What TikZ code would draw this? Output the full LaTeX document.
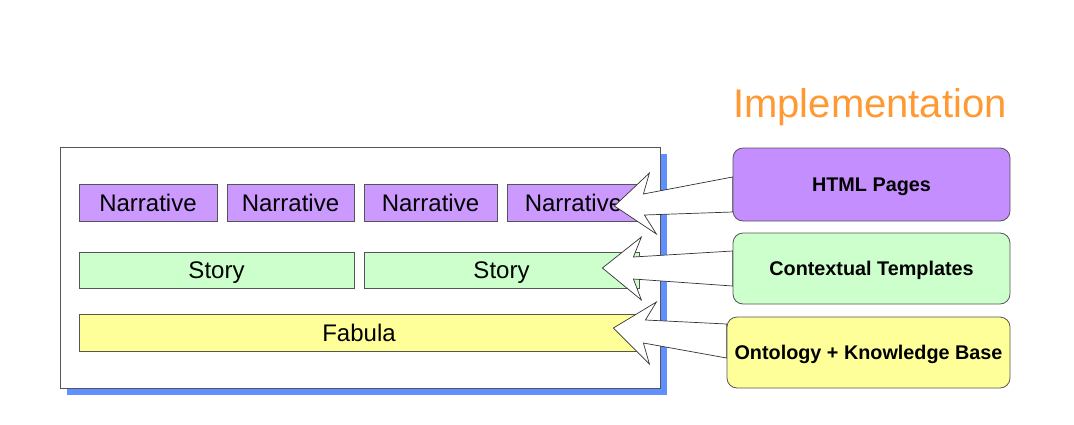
\documentclass[tikz,border=0pt]{standalone}
\usepackage{fontspec}
\setmainfont{Liberation Sans}
\usetikzlibrary{calc,shadows}
\definecolor{narrpurple}{HTML}{CC99FF}
\definecolor{htmlpurple}{HTML}{C58EFF}
\definecolor{storygreen}{HTML}{CCFFCC}
\definecolor{fabyellow}{HTML}{FFFF99}
\definecolor{shadowblue}{HTML}{6090FF}
\definecolor{implorange}{HTML}{FF9933}
\definecolor{edgegrey}{HTML}{555555}
\tikzset{
  layer/.style      = {draw=edgegrey, line width=0.8pt, minimum height=37pt,
                       inner sep=0pt, text height=17.2pt, text depth=0pt,
                       font=\fontsize{24}{28}\selectfont},
  source/.style     = {draw=edgegrey, line width=0.8pt, rounded corners=10pt,
                       inner sep=0pt, text height=14pt, text depth=0pt,
                       font=\fontsize{19.8}{23}\selectfont\bfseries},
  frame/.style      = {draw=edgegrey, line width=0.8pt, fill=white, inner sep=0pt,
                       minimum width=600pt, minimum height=241pt,
                       general shadow={fill=shadowblue, shadow xshift=7pt, shadow yshift=-7pt}},
  bigarrow/.style   = {draw=black!80, line width=0.7pt, fill=white, line join=miter},
}

\begin{document}
\begin{tikzpicture}[x=1pt, y=-1pt]
  \useasboundingbox (0,0) rectangle (1074,424);
  % left part: the layers
  \node[frame] (box) at (360,267.5) {};
  \node[layer, fill=narrpurple, minimum width=138pt] (narr1) at (148,202.5) {Narrative};
  \node[layer, fill=narrpurple, minimum width=127pt] (narr2) at (290.5,202.5) {Narrative};
  \node[layer, fill=narrpurple, minimum width=133pt] (narr3) at (430.5,202.5) {Narrative};
  \node[layer, fill=narrpurple, minimum width=133pt] (narr4) at (573.5,202.5) {Narrative};
  \node[layer, fill=storygreen, minimum width=275pt, minimum height=36pt] (story1) at (216.5,270) {Story};
  \node[layer, fill=storygreen, minimum width=275pt, minimum height=36pt] (story2) at (501.5,270) {Story};
  \node[layer, fill=fabyellow, minimum width=560pt] (fabula) at (359,332.5) {Fabula};
  % right part: the implementation
  \node[anchor=base, text=implorange, font=\fontsize{40}{46}\selectfont] (impl) at (870,117) {Implementation};
  \node[source, fill=htmlpurple, minimum width=277pt, minimum height=73pt] (html) at (871.5,184.5) {HTML Pages};
  \node[source, fill=storygreen, minimum width=277pt, minimum height=71pt] (ctx) at (871.5,268.5) {Contextual Templates};
  \node[source, fill=fabyellow, minimum width=283pt, minimum height=71pt] (onto) at (868.5,352.5) {Ontology + Knowledge Base};
  % block arrows
  \coordinate (tipA) at ($(narr4.east)+(-26,3.5)$);
  \coordinate (tipB) at ($(story2.east)+(-37,-2)$);
  \coordinate (tipC) at ($(fabula.east)+(-26,-4.5)$);
  \draw[bigarrow] ($(html.west)+(0,-7.5)$) -- ($(tipA)+(29,-12)$) -- ($(tipA)+(35,-33)$) -- (tipA)
    -- ($(tipA)+(42,28)$) -- ($(tipA)+(30,9)$) -- ($(html.west)+(0,27.5)$) -- cycle;
  \draw[bigarrow] ($(ctx.west)+(0,-17.5)$) -- ($(tipB)+(31,-11)$) -- ($(tipB)+(39,-31)$) -- (tipB)
    -- ($(tipB)+(39,32)$) -- ($(tipB)+(31,11)$) -- ($(ctx.west)+(0,17.5)$) -- cycle;
  \draw[bigarrow] ($(onto.west)+(0,-28.5)$) -- ($(tipC)+(32,-8)$) -- ($(tipC)+(43,-26)$) -- (tipC)
    -- ($(tipC)+(36,36)$) -- ($(tipC)+(30,15)$) -- ($(onto.west)+(0,5.5)$) -- cycle;
\end{tikzpicture}
\end{document}
